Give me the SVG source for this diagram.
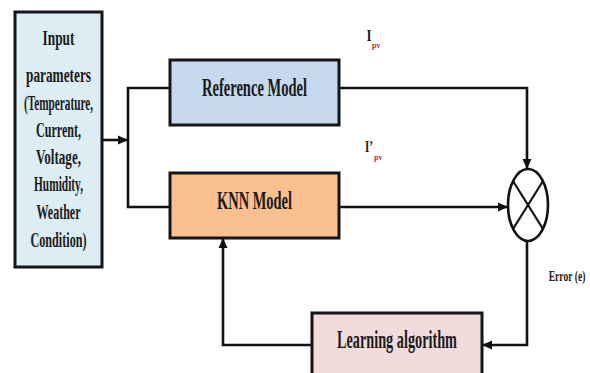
<svg xmlns="http://www.w3.org/2000/svg" width="590" height="373" viewBox="0 0 590 373">
<defs>
<marker id="arr" markerUnits="userSpaceOnUse" markerWidth="10" markerHeight="10" viewBox="0 0 10 10" refX="10" refY="5" orient="auto">
<path d="M0,0.5 L10,5 L0,9.5 Z" fill="#111"/>
</marker>
<style>
.box{stroke:#151515;stroke-width:3}
.t{font-family:"Liberation Serif","Times New Roman",serif;font-weight:bold;fill:#1a1a1a;text-anchor:middle}
.ln{fill:none;stroke:#111;stroke-width:2.6}
.sub{font-family:"Liberation Serif",serif;font-weight:bold;fill:#b0303a}
</style>
</defs>
<rect width="590" height="373" fill="#fff"/>
<g id="connectors">
<line class="ln" x1="102" y1="140" x2="128" y2="140" marker-end="url(#arr)"/>
<polyline class="ln" points="170,88 128,88 128,207 170,207"/>
<polyline class="ln" points="339,88 527,88 527,169" marker-end="url(#arr)"/>
<line class="ln" x1="339" y1="207" x2="508" y2="207" marker-end="url(#arr)"/>
<polyline class="ln" points="527,241 527,345 482,345" marker-end="url(#arr)"/>
<polyline class="ln" points="312,345 223,345 223,238" marker-end="url(#arr)"/>
</g>
<g id="input">
<rect class="box" x="15" y="12" width="87" height="255" fill="#dcedf3"/>
<text class="t" font-size="20" x="58.5" y="45" textLength="32" lengthAdjust="spacingAndGlyphs">Input</text>
<text class="t" font-size="20" x="58.5" y="82" textLength="65" lengthAdjust="spacingAndGlyphs">parameters</text>
<text class="t" font-size="20" x="58.5" y="110" textLength="69" lengthAdjust="spacingAndGlyphs">(Temperature,</text>
<text class="t" font-size="20" x="58.5" y="137" textLength="45" lengthAdjust="spacingAndGlyphs">Current,</text>
<text class="t" font-size="20" x="58.5" y="164" textLength="45" lengthAdjust="spacingAndGlyphs">Voltage,</text>
<text class="t" font-size="20" x="58.5" y="191" textLength="49" lengthAdjust="spacingAndGlyphs">Humidity,</text>
<text class="t" font-size="20" x="58.5" y="219" textLength="44" lengthAdjust="spacingAndGlyphs">Weather</text>
<text class="t" font-size="20" x="58.5" y="247" textLength="56" lengthAdjust="spacingAndGlyphs">Condition)</text>
</g>
<g id="reference">
<rect class="box" x="170" y="60" width="169" height="65" fill="#c7d9ef"/>
<text class="t" font-size="26" x="254.5" y="96" textLength="105" lengthAdjust="spacingAndGlyphs">Reference Model</text>
</g>
<g id="knn">
<rect class="box" x="170" y="173" width="169" height="65" fill="#f9c08f"/>
<text class="t" font-size="26" x="254.5" y="209" textLength="75" lengthAdjust="spacingAndGlyphs">KNN Model</text>
</g>
<g id="comparator">
<ellipse cx="528" cy="205" rx="20" ry="36" fill="#fff" stroke="#111" stroke-width="2.6"/>
<line x1="513" y1="181" x2="543" y2="229" stroke="#111" stroke-width="2.2"/>
<line x1="543" y1="181" x2="513" y2="229" stroke="#111" stroke-width="2.2"/>
</g>
<g id="learning">
<rect class="box" x="312" y="313" width="170" height="66" fill="#f2dcdb"/>
<text class="t" font-size="26" x="397" y="348" textLength="120" lengthAdjust="spacingAndGlyphs">Learning algorithm</text>
</g>
<g id="labels">
<text class="t" font-size="16" x="369" y="41" textLength="5" lengthAdjust="spacingAndGlyphs">I</text>
<text class="sub" font-size="8" x="372" y="48">pv</text>
<text class="t" font-size="16" x="369" y="152" textLength="8" lengthAdjust="spacingAndGlyphs">I’</text>
<text class="sub" font-size="8" x="374" y="160">pv</text>
<text class="t" font-size="15" transform="translate(567,281) scale(0.64,1)">Error (e)</text>
</g>
</svg>
